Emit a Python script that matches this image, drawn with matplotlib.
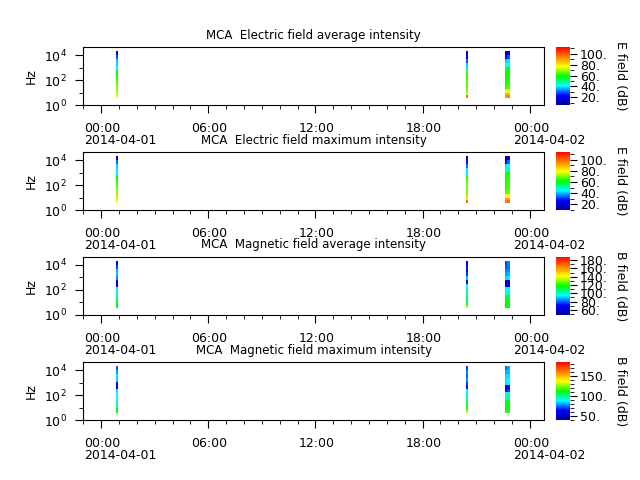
import numpy as np
import matplotlib
matplotlib.use('Agg')
import matplotlib.pyplot as plt
import matplotlib.dates as mdates
from matplotlib.colors import LinearSegmentedColormap
from matplotlib.ticker import MultipleLocator, FormatStrFormatter, FuncFormatter, NullFormatter
from matplotlib.transforms import ScaledTranslation
from datetime import datetime

plt.rcParams['font.size'] = 9

# frequency bin edges (Hz)
freq_edges = [3.5, 6, 10, 20, 40, 80, 160, 300, 600, 1200, 2500, 5000, 10000, 20000]

# column edges: pass 1, gap, pass 2, gap, pass 3 (two columns)
time_edges = [datetime(2014, 4, 1, 0, 49), datetime(2014, 4, 1, 0, 56),
              datetime(2014, 4, 1, 20, 25), datetime(2014, 4, 1, 20, 32),
              datetime(2014, 4, 1, 22, 36), datetime(2014, 4, 1, 22, 44),
              datetime(2014, 4, 1, 22, 53)]

# intensities (dB), low -> high frequency
e_avg_p1 = [76, 73, 70, 68, 66, 63, 60, 57, 42, 40, 38, 30, 12]
e_avg_p2 = [95, 78, 68, 66, 65, 64, 63, 62, 40, 38, 30, 24, 12]
e_avg_p3a = [92, 88, 76, 62, 60, 60, 59, 58, 56, 42, 38, 24, 10]
e_avg_p3b = [94, 86, 74, 64, 62, 61, 60, 60, 58, 44, 40, 30, 14]

e_max_p1 = [80, 77, 74, 72, 70, 67, 64, 61, 46, 44, 42, 34, 16]
e_max_p2 = [100, 83, 73, 71, 70, 69, 68, 66, 45, 43, 35, 28, 15]
e_max_p3a = [97, 93, 81, 68, 65, 65, 64, 63, 60, 47, 43, 28, 14]
e_max_p3b = [99, 91, 79, 69, 67, 66, 65, 65, 63, 49, 45, 35, 18]

b_avg_p1 = [116, 114, 110, 104, 100, 96, 68, 60, 84, 90, 88, 78, 72]
b_avg_p2 = [132, 120, 110, 106, 104, 100, 98, 60, 88, 76, 72, 74, 70]
b_avg_p3a = [118, 117, 116, 112, 98, 96, 66, 56, 92, 86, 84, 80, 78]
b_avg_p3b = [120, 118, 116, 114, 100, 97, 70, 58, 94, 88, 85, 82, 84]

b_max_p1 = [110, 108, 96, 92, 90, 88, 86, 56, 58, 84, 86, 80, 72]
b_max_p2 = [128, 116, 106, 100, 96, 92, 90, 60, 70, 78, 74, 76, 70]
b_max_p3a = [114, 112, 110, 108, 96, 92, 66, 58, 86, 86, 84, 80, 74]
b_max_p3b = [116, 114, 112, 110, 98, 94, 70, 62, 88, 88, 86, 82, 80]

titles = ['MCA  Electric field average intensity',
          'MCA  Electric field maximum intensity',
          'MCA  Magnetic field average intensity',
          'MCA  Magnetic field maximum intensity']
cbar_labels = ['E field (dB)', 'E field (dB)', 'B field (dB)', 'B field (dB)']


def build(p1, p2, p3a, p3b):
    gap = [np.nan] * len(p1)
    z = np.column_stack([p1, gap, p2, gap, p3a, p3b])
    return np.ma.masked_invalid(z)


panels = [build(e_avg_p1, e_avg_p2, e_avg_p3a, e_avg_p3b),
          build(e_max_p1, e_max_p2, e_max_p3a, e_max_p3b),
          build(b_avg_p1, b_avg_p2, b_avg_p3a, b_avg_p3b),
          build(b_max_p1, b_max_p2, b_max_p3a, b_max_p3b)]
limits = [(6, 112), (10, 114), (48, 188), (40, 184)]
cb_major = [20, 20, 20, 50]

cmap = LinearSegmentedColormap.from_list(
    'spec', [(0, 0, 0.6), (0, 0, 1), (0, 1, 1), (0, 1, 0), (1, 1, 0), (1, 0.5, 0), (1, 0, 0)])


def fmt_time(x, pos):
    d = mdates.num2date(x)
    if d.hour == 0 and d.minute == 0:
        return d.strftime('%H:%M\n%Y-%m-%d')
    return d.strftime('%H:%M')


fig = plt.figure(figsize=(6.4, 4.8), dpi=100)
bottoms = [0.781, 0.5625, 0.344, 0.125]
height = 0.121

for i in range(4):
    ax = fig.add_axes([0.130, bottoms[i], 0.720, height])
    cax = fig.add_axes([0.869, bottoms[i], 0.022, height])
    mesh = ax.pcolormesh(time_edges, freq_edges, panels[i], cmap=cmap,
                         vmin=limits[i][0], vmax=limits[i][1], shading='flat')
    ax.set_yscale('log')
    ax.set_ylim(1, 4.5e4)
    ax.set_yticks([1, 100, 1e4])
    ax.set_yticks([10, 1000], minor=True)
    ax.yaxis.set_minor_formatter(NullFormatter())
    ax.set_xlim(datetime(2014, 3, 31, 23, 0), datetime(2014, 4, 2, 0, 48))
    ax.xaxis.set_major_locator(mdates.HourLocator(byhour=[0, 6, 12, 18]))
    ax.xaxis.set_minor_locator(mdates.HourLocator())
    ax.xaxis.set_major_formatter(FuncFormatter(fmt_time))
    ax.tick_params(which='major', direction='out', length=6, pad=6)
    ax.tick_params(which='minor', direction='out', length=3)
    ax.set_ylabel('Hz')
    ax.set_title(titles[i], fontsize=8.5)

    offset = ScaledTranslation(-0.17, 0, fig.dpi_scale_trans)
    for lab in ax.get_xticklabels():
        lab.set_horizontalalignment('left')
        lab.set_multialignment('left')
        lab.set_linespacing(0.95)
        lab.set_transform(lab.get_transform() + offset)

    cb = fig.colorbar(mesh, cax=cax)
    cb.outline.set_visible(False)
    cb.locator = MultipleLocator(cb_major[i])
    cb.formatter = FormatStrFormatter('%d.')
    cb.update_ticks()
    cb.ax.yaxis.set_minor_locator(MultipleLocator(10))
    cb.ax.tick_params(which='major', length=5, pad=2)
    cb.ax.tick_params(which='minor', length=3)
    cb.set_label(cbar_labels[i], rotation=270, labelpad=14)

fig.savefig('out.png', dpi=100)
